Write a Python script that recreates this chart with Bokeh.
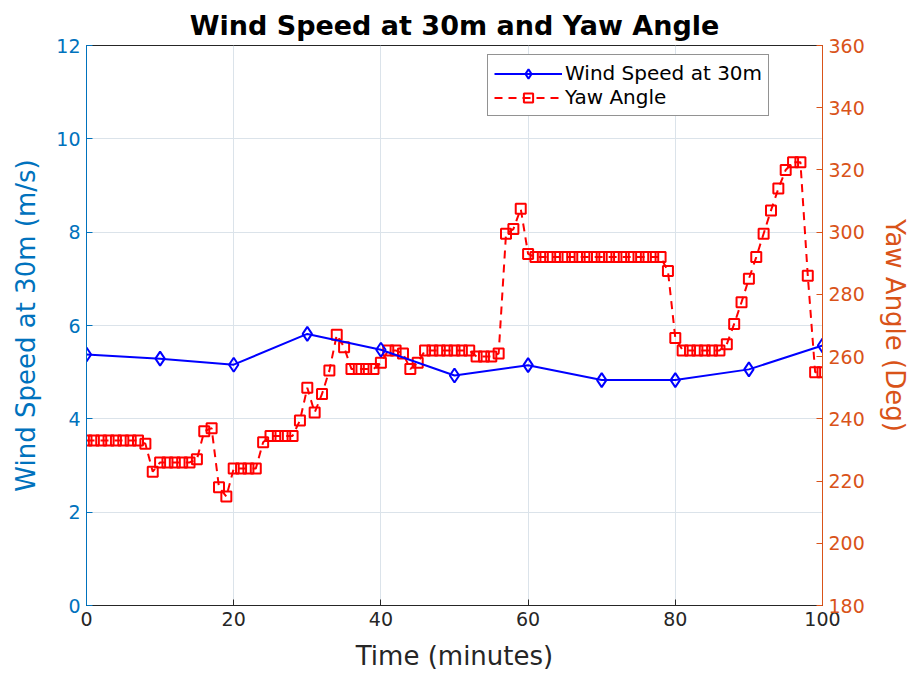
from bokeh.plotting import figure
from bokeh.models import Range1d, LinearAxis, Legend, LegendItem, FixedTicker
from bokeh.embed import file_html
from bokeh.resources import INLINE

# ---- data ----
time_wind = [0, 10, 20, 30, 40, 50, 60, 70, 80, 90, 100]
wind_speed = [5.38, 5.29, 5.16, 5.82, 5.48, 4.93, 5.15, 4.83, 4.83, 5.06, 5.57]

time_yaw = [0, 1, 2, 3, 4, 5, 6, 7, 8, 9, 10, 11, 12, 13, 14, 15, 16, 17, 18, 19,
            20, 21, 22, 23, 24, 25, 26, 27, 28, 29, 30, 31, 32, 33, 34, 35, 36, 37, 38, 39,
            40, 41, 42, 43, 44, 45, 46, 47, 48, 49, 50, 51, 52, 53, 54, 55, 56, 57, 58, 59,
            60, 61, 62, 63, 64, 65, 66, 67, 68, 69, 70, 71, 72, 73, 74, 75, 76, 77, 78, 79,
            80, 81, 82, 83, 84, 85, 86, 87, 88, 89, 90, 91, 92, 93, 94, 95, 96, 97, 98, 99, 100]
yaw_angle = [233, 233, 233, 233, 233, 233, 233, 233, 232, 223,
             226, 226, 226, 226, 226, 227, 236, 237, 218, 215,
             224, 224, 224, 224, 232.5, 234.5, 234.5, 234.5, 234.5, 239.5,
             250, 242, 248, 255.5, 267, 263, 256, 256, 256, 256,
             258, 262, 262, 261, 256, 258, 262, 262, 262, 262,
             262, 262, 262, 260, 260, 260, 261, 299.5, 301, 307.5,
             293, 292, 292, 292, 292, 292, 292, 292, 292, 292,
             292, 292, 292, 292, 292, 292, 292, 292, 292, 287.5,
             266, 262, 262, 262, 262, 262, 262, 264, 270.5, 277.5,
             285, 292, 299.5, 307, 314, 320, 322.5, 322.5, 286, 255, 255]

x_ticks = [0, 20, 40, 60, 80, 100]
left_ticks = [0, 2, 4, 6, 8, 10, 12]
right_ticks = [180, 200, 220, 240, 260, 280, 300, 320, 340, 360]

title_text = "Wind Speed at 30m and Yaw Angle"
x_label = "Time (minutes)"
left_label = "Wind Speed at 30m (m/s)"
right_label = "Yaw Angle (Deg)"
wind_name = "Wind Speed at 30m"
yaw_name = "Yaw Angle"

BLUE_AX = "#0072BD"
ORANGE_AX = "#D95319"
FONT = "DejaVu Sans"

p = figure(width=913, height=675, x_range=Range1d(0, 100), y_range=Range1d(0, 12),
           output_backend="svg", toolbar_location=None,
           min_border_left=86, min_border_right=91, min_border_top=45, min_border_bottom=70)
p.extra_y_ranges = {"yaw": Range1d(180, 360)}

p.title.text = title_text
p.title.align = "center"
p.title.text_font = FONT
p.title.text_font_size = "27px"
p.title.text_font_style = "bold"
p.title.text_color = "#000000"

p.background_fill_color = "white"
p.border_fill_color = "white"
p.outline_line_color = "#262626"
p.outline_line_width = 1

# grid
p.xgrid.ticker = FixedTicker(ticks=x_ticks)
p.ygrid.ticker = FixedTicker(ticks=left_ticks)
for g in (p.xgrid, p.ygrid):
    g.grid_line_color = "#dbe3ea"
    g.grid_line_width = 1

# axes
xa = p.xaxis[0]
xa.ticker = FixedTicker(ticks=x_ticks)
xa.axis_label = x_label
ya = p.yaxis[0]
ya.ticker = FixedTicker(ticks=left_ticks)
ya.axis_label = left_label

ra = LinearAxis(y_range_name="yaw", ticker=FixedTicker(ticks=right_ticks), axis_label=right_label)
ra.axis_label_orientation = "vertical"
p.add_layout(ra, "right")

for ax, col in ((xa, "#262626"), (ya, BLUE_AX), (ra, ORANGE_AX)):
    ax.axis_line_color = col
    ax.axis_line_width = 1
    ax.major_tick_line_color = col
    ax.major_tick_in = 6
    ax.major_tick_out = 0
    ax.minor_tick_line_color = None
    ax.major_label_text_color = col
    ax.major_label_text_font = FONT
    ax.major_label_text_font_size = "19px"
    ax.axis_label_text_color = col
    ax.axis_label_text_font = FONT
    ax.axis_label_text_font_size = "26px"
    ax.axis_label_text_font_style = "normal"
    ax.major_label_standoff = 6
    ax.axis_label_standoff = 12

# series
yl = p.line(time_yaw, yaw_angle, y_range_name="yaw", line_color="#ff0000", line_width=2,
            line_dash="8 6")
ys = p.scatter(time_yaw, yaw_angle, y_range_name="yaw", marker="square", size=10,
               line_color="#ff0000", fill_color=None, line_width=2)
wl = p.line(time_wind, wind_speed, line_color="#0000ff", line_width=2)
ws = p.scatter(time_wind, wind_speed, marker="diamond", size=14,
               line_color="#0000ff", fill_color=None, line_width=2)

legend = Legend(items=[LegendItem(label=wind_name, renderers=[wl, ws]),
                       LegendItem(label=yaw_name, renderers=[yl, ys])],
                location=(401, 489))
legend.label_text_font = FONT
legend.label_text_font_size = "20px"
legend.label_text_color = "#000000"
legend.glyph_width = 68
legend.glyph_height = 23
legend.label_standoff = 3
legend.label_height = 23
legend.spacing = 0
legend.padding = 6
legend.margin = 0
legend.border_line_color = "#262626"
legend.border_line_width = 1
legend.background_fill_color = "white"
legend.background_fill_alpha = 1
p.add_layout(legend, "center")

open("out.html", "w").write(file_html(p, INLINE))
